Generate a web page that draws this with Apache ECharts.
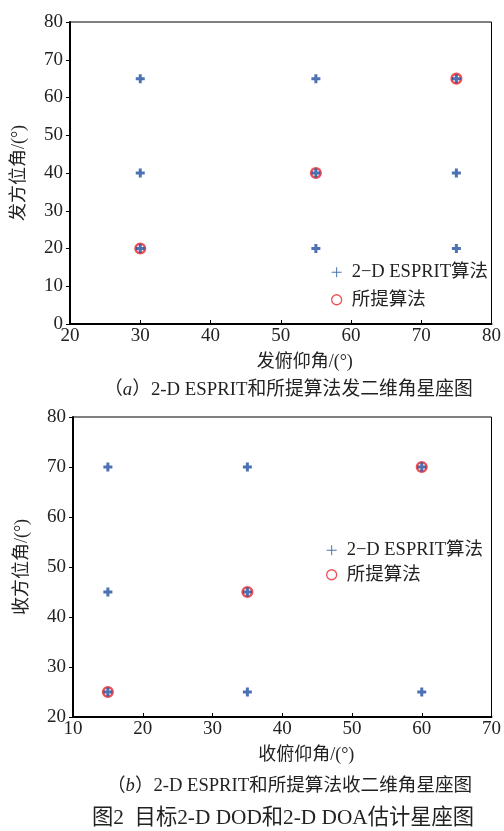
<!DOCTYPE html>
<html>
<head>
<meta charset="utf-8">
<script src="https://cdn.jsdelivr.net/npm/echarts@6/dist/echarts.min.js"></script>
<style>html,body{margin:0;padding:0;background:#fff}#c{width:504px;height:831px}</style>
</head>
<body>
<div id="c"></div>
<script>
// ---- data ----
const espritTx = [[30,65],[55,65],[75,65],[30,40],[55,40],[75,40],[30,20],[55,20],[75,20]];
const proposedTx = [[30,20],[55,40],[75,65]];
const espritRx = [[15,70],[35,70],[60,70],[15,45],[35,45],[15,25],[35,25],[60,25]];
const proposedRx = [[15,25],[35,45],[60,70]];
const seriesNames = ['2\u2212D ESPRIT算法', '所提算法'];
const axisNames = { txX: '发俯仰角/(°)', txY: '发方位角/(°)', rxX: '收俯仰角/(°)', rxY: '收方位角/(°)' };
const captionA = ['（', 'a', '）2-D ESPRIT和所提算法发二维角星座图'];
const captionB = ['（', 'b', '）2-D ESPRIT和所提算法收二维角星座图'];
const figTitle = '图2  目标2-D DOD和2-D DOA估计星座图';

const FONT = '"Liberation Serif","Noto Sans CJK SC",serif';
const BLUE = '#1f4fa0';
const RED = '#e8262c';
const PLUS = 'path://M3,0H6V3H9V6H6V9H3V6H0V3H3Z';
const PLUS_THIN = 'path://M4.5,0H5.5V4.5H10V5.5H5.5V10H4.5V5.5H0V4.5H4.5Z';

function xAxis(idx, min, max, name) {
  return {
    gridIndex: idx, type: 'value', min: min, max: max, interval: 10,
    name: name, nameLocation: 'middle', nameGap: 29,
    nameTextStyle: { fontFamily: FONT, fontSize: 18, color: '#222', padding: [0,0,0,48] },
    axisLine: { show: true, onZero: false, lineStyle: { color: '#000', width: 2 } },
    axisTick: { show: true, inside: true, length: 4, lineStyle: { color: '#000' } },
    axisLabel: { fontFamily: FONT, fontSize: 19, color: '#222', margin: 3 },
    splitLine: { show: false }
  };
}
function yAxis(idx, min, max, name) {
  return {
    gridIndex: idx, type: 'value', min: min, max: max, interval: 10,
    name: name, nameLocation: 'middle', nameGap: 42,
    nameTextStyle: { fontFamily: FONT, fontSize: 18, color: '#222' },
    axisLine: { show: true, onZero: false, lineStyle: { color: '#000', width: 2 } },
    axisTick: { show: true, inside: false, length: 4, lineStyle: { color: '#000' } },
    axisLabel: { fontFamily: FONT, fontSize: 19, color: '#222', margin: 7 },
    splitLine: { show: false }
  };
}
function legend(left, top, gap) {
  return {
    orient: 'vertical', left: left, top: top, itemGap: gap, itemWidth: 10, itemHeight: 10,
    selectedMode: false,
    textStyle: { fontFamily: FONT, fontSize: 18.5, color: '#222', padding: [0,0,0,5] },
    data: [
      { name: seriesNames[0], icon: PLUS_THIN, itemStyle: { color: BLUE, borderWidth: 0 } },
      { name: seriesNames[1], icon: 'circle', itemStyle: { color: 'rgba(0,0,0,0)', borderColor: RED, borderWidth: 1.3 } }
    ]
  };
}
function redSeries(xi, data) {
  return { type: 'scatter', name: seriesNames[1], xAxisIndex: xi, yAxisIndex: xi, data: data,
    symbol: 'circle', symbolSize: 9.5, z: 2,
    itemStyle: { color: 'rgba(0,0,0,0)', borderColor: RED, borderWidth: 2.6 } };
}
function blueSeries(xi, data) {
  return { type: 'scatter', name: seriesNames[0], xAxisIndex: xi, yAxisIndex: xi, data: data,
    symbol: PLUS, symbolSize: 9, z: 3, itemStyle: { color: BLUE } };
}
function caption(parts, y, x, fs) {
  return { type: 'text', left: x, top: y, style: {
    text: '{n|' + parts[0] + '}{i|' + parts[1] + '}{n|' + parts[2] + '}',
    rich: { n: { fontFamily: FONT, fontSize: fs, fill: '#222' },
            i: { fontFamily: FONT, fontSize: fs, fontStyle: 'italic', fill: '#222' } } } };
}

const chart = echarts.init(document.getElementById('c'));
chart.setOption({
  backgroundColor: '#fff',
  animation: false,
  grid: [
    { left: 70, right: 11, top: 22, height: 302, show: true, borderColor: '#000', borderWidth: 1 },
    { left: 73, right: 12, top: 417, height: 300, show: true, borderColor: '#000', borderWidth: 1 }
  ],
  xAxis: [ xAxis(0, 20, 80, axisNames.txX), xAxis(1, 10, 70, axisNames.rxX) ],
  yAxis: [ yAxis(0, 0, 80, axisNames.txY), yAxis(1, 20, 80, axisNames.rxY) ],
  legend: [ legend(326, 258, 9), legend(321, 536, 6) ],
  series: [
    redSeries(0, proposedTx), blueSeries(0, espritTx),
    redSeries(1, proposedRx), blueSeries(1, espritRx)
  ],
  graphic: [
    caption(captionA, 381, 104, 18.8),
    caption(captionB, 777, 107, 18.6),
    { type: 'text', left: 92, top: 808, style: { text: figTitle, fontFamily: FONT, fontSize: 21.3, fill: '#222' } }
  ]
});
</script>
</body>
</html>
